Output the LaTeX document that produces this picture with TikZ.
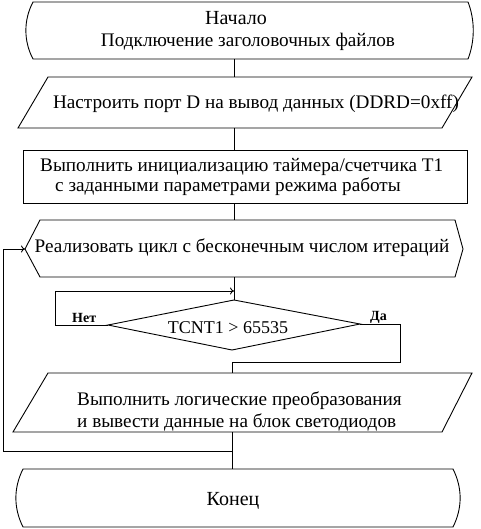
\documentclass[tikz,border=0pt]{standalone}
\usepackage{fontspec}
\setmainfont{Liberation Serif}
\usetikzlibrary{arrows.meta}
\begin{document}
\begin{tikzpicture}[x=1pt,y=-1pt,
  shp/.style={draw, line width=0.9pt, line join=miter},
  txt/.style={inner sep=0pt, font=\fontsize{19.2}{22}\selectfont},
  bigtxt/.style={inner sep=0pt, font=\fontsize{20}{22}\selectfont},
  condtxt/.style={inner sep=0pt, font=\fontsize{18}{20}\selectfont},
  lbl/.style={inner sep=0pt, font=\bfseries\fontsize{14}{16}\selectfont},
  conn/.style={draw, line width=0.9pt},
  arr/.style={conn, -{To[length=4pt,width=7pt]}}]
\useasboundingbox (0,0) rectangle (480,529);

% shapes
\draw[shp] (33,2) -- (468,2) .. controls (475,20) and (475,41) .. (468,59) -- (33,59) .. controls (23.5,41) and (23.5,20) .. (33,2) -- cycle;
\draw[shp] (48,77) -- (472,77) -- (442,128) -- (18,128) -- cycle;
\draw[shp] (23,150) rectangle (467,203);
\draw[shp] (40,220) -- (455,220) -- (463,249) -- (455,277) -- (40,277) -- (25,249) -- cycle;
\draw[shp] (234,300) -- (360,324) -- (232,350) -- (108,325) -- cycle;
\draw[shp] (48,373) -- (472,373) -- (442,432) -- (13,432) -- cycle;
\draw[shp] (23,469) -- (453,469) .. controls (462.5,488) and (462.5,508) .. (453,527) -- (23,527) .. controls (13.5,508) and (13.5,488) .. (23,469) -- cycle;

% texts
\node[bigtxt, anchor=base] (t0) at (236,25) {Начало};
\node[txt, anchor=base] (t1) at (248,47) {Подключение заголовочных файлов};
\node[txt, anchor=base] (t2) at (256,109) {Настроить порт D на вывод данных (DDRD=0xff)};
\node[txt, anchor=base west] (t3) at (40,172) {Выполнить инициализацию таймера/счетчика T1};
\node[txt, anchor=base west] (t4) at (55,192) {с заданными параметрами режима работы};
\node[txt, anchor=base] (t5) at (242,252) {Реализовать цикл с бесконечным числом итераций};
\node[condtxt, anchor=base] (t6) at (228,333) {TCNT1 > 65535};
\node[txt, anchor=base west] (t7) at (77,405) {Выполнить логические преобразования};
\node[txt, anchor=base west] (t8) at (77,427) {и вывести данные на блок светодиодов};
\node[bigtxt, anchor=base] (t9) at (233,505) {Конец};
\node[lbl, anchor=base west] (no) at (72,322) {Нет};
\node[lbl, anchor=base west] (yes) at (370,320) {Да};

% connection points
\coordinate (s1b) at (234,59);
\coordinate (p1t) at (234,77);
\coordinate (p1b) at (234,128);
\coordinate (r1t) at (234,150);
\coordinate (r1b) at (234,203);
\coordinate (h1t) at (234,220);
\coordinate (h1b) at (234,277);
\coordinate (h1l) at (25,249);
\coordinate (d1t) at (234,300);
\coordinate (d1l) at (108,325);
\coordinate (d1r) at (360,324);
\coordinate (p2t) at (232,373);
\coordinate (p2b) at (232,432);
\coordinate (e1t) at (232,469);
\coordinate (nlc) at (55,325);
\coordinate (lpc) at (234,291);
\coordinate (ya1) at (400,324);
\coordinate (ya2) at (232,362);
\coordinate (lj) at (232,451);
\coordinate (lc) at (3,249);

% connectors
\draw[conn] (s1b) -- (p1t);
\draw[conn] (p1b) -- (r1t);
\draw[conn] (r1b) -- (h1t);
\draw[conn] (h1b) -- (d1t);
\draw[arr] (d1l) -- (nlc) |- (lpc);
\draw[conn] (d1r) -- (ya1) |- (ya2) -- (p2t);
\draw[conn] (p2b) -- (e1t);
\draw[arr] (lj) -| (lc) -- (h1l);
\end{tikzpicture}
\end{document}
